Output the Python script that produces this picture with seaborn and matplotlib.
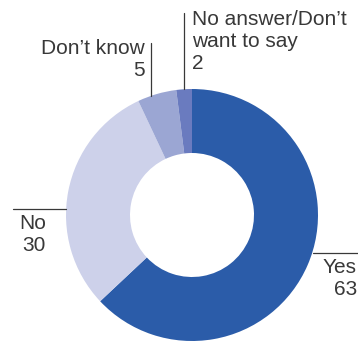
import matplotlib
matplotlib.use("Agg")
import matplotlib.pyplot as plt
import seaborn as sns

# Survey answers (percent)
categories = ["Yes", "No", "Don\u2019t know", "No answer/Don\u2019t\nwant to say"]
values = [63, 30, 5, 2]
colors = ["#2b5ca9", "#cdd1ea", "#9ba6d3", "#6a7bbf"]

sns.set_theme(style="white")
plt.rcParams["font.family"] = ["Liberation Sans", "DejaVu Sans"]

W, H = 358, 343
fig = plt.figure(figsize=(W / 100, H / 100), dpi=100)
ax = fig.add_axes([0, 0, 1, 1])

cx, cy, r = 192, H - 215, 126
ax.pie(values, colors=colors, startangle=90, counterclock=False,
       center=(cx, cy), radius=r, frame=True,
       wedgeprops=dict(width=64, linewidth=0))
ax.set_xlim(0, W)
ax.set_ylim(0, H)
ax.set_aspect("equal")
ax.axis("off")

txt = dict(fontsize=15, color="#383838", linespacing=1.2)
line = dict(color="#383838", linewidth=0.9)

def y(p):
    return H - p

# Yes
ax.plot([313, 358], [y(253), y(253)], **line)
ax.text(357, y(258), f"{categories[0]}\n{values[0]}", ha="right", va="top", **txt)
# No
ax.plot([13, 66], [y(209), y(209)], **line)
ax.text(46, y(214), f"{categories[1]}\n{values[1]}", ha="right", va="top", **txt)
# Don't know
ax.plot([151, 151], [y(43), y(96)], **line)
ax.text(145, y(39), f"{categories[2]}\n{values[2]}", ha="right", va="top", **txt)
# No answer / Don't want to say
ax.plot([184, 184], [y(13), y(89)], **line)
ax.text(192, y(10), f"{categories[3]}\n{values[3]}", ha="left", va="top", **txt)

fig.savefig("out.png", dpi=100, facecolor="white")
